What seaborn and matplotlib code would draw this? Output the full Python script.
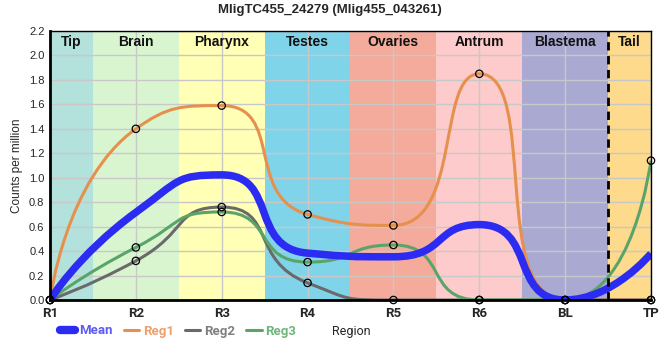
import matplotlib
matplotlib.use("Agg")
import matplotlib.pyplot as plt
import seaborn as sns
import numpy as np
import pandas as pd
from matplotlib.path import Path
from matplotlib.patches import PathPatch
from matplotlib.lines import Line2D

# data
regions = ["R1", "R2", "R3", "R4", "R5", "R6", "BL", "TP"]
reg1 = [0.0, 1.40, 1.59, 0.70, 0.61, 1.85, 0.0, 0.0]
reg2 = [0.0, 0.32, 0.76, 0.14, 0.0, 0.0, 0.0, 0.0]
reg3 = [0.0, 0.43, 0.72, 0.31, 0.45, 0.0, 0.0, 1.14]
mean = list(np.mean([reg1, reg2, reg3], axis=0))

band_names = ["Tip", "Brain", "Pharynx", "Testes", "Ovaries", "Antrum", "Blastema", "Tail"]
band_colors = ["#b3e2dd", "#d9f5d0", "#ffffb5", "#7fd4e9", "#f4ab9c", "#fdcbcb", "#a9a9d1", "#fdda8c"]

colors = {"Mean": "#2b2bf2", "Reg1": "#e6904d", "Reg2": "#6a6a6a", "Reg3": "#5aa469"}
text_colors = {"Mean": "#5b5bf5", "Reg1": "#eba070", "Reg2": "#808080", "Reg3": "#6fb67c"}


def smooth_path(ax, xs, ys, smooth=0.6):
    # bezier through the points in pixel space, control points kept
    # between neighbours so the curve never overshoots
    pts = ax.transData.transform(np.column_stack([xs, ys]))
    n = len(pts)
    verts = [tuple(pts[0])]
    codes = [Path.MOVETO]
    cp0 = tuple(pts[0])
    for i in range(1, n):
        x, y = pts[i]
        px, py = pts[i - 1]
        nxt = None
        if i == n - 1:
            cp1 = (x, y)
        else:
            nx, ny = pts[i + 1]
            vx, vy = nx - px, ny - py
            d0 = np.hypot(x - px, y - py)
            d1 = np.hypot(nx - x, ny - y)
            r = d1 / (d0 + d1)
            ncx = x + vx * smooth * r
            ncy = y + vy * smooth * r
            ncx = max(min(ncx, max(nx, x)), min(nx, x))
            ncy = max(min(ncy, max(ny, y)), min(ny, y))
            vx, vy = ncx - x, ncy - y
            c1x = x - vx * d0 / d1
            c1y = y - vy * d0 / d1
            c1x = max(min(c1x, max(px, x)), min(px, x))
            c1y = max(min(c1y, max(py, y)), min(py, y))
            vx, vy = x - c1x, y - c1y
            nxt = (x + vx * d1 / d0, y + vy * d1 / d0)
            cp1 = (c1x, c1y)
        verts += [cp0, cp1, (x, y)]
        codes += [Path.CURVE4] * 3
        cp0 = nxt
    data_verts = ax.transData.inverted().transform(np.array(verts))
    return Path(data_verts, codes)


sns.set_style("white")
plt.rcParams["font.family"] = ["Liberation Sans", "DejaVu Sans"]

fig = plt.figure(figsize=(6.6, 3.6), dpi=100)
ax = fig.add_axes([50 / 660, 60 / 360, 601 / 660, 269 / 360])

x = np.arange(len(regions))

ax.set_xlim(0, len(regions) - 1)
ax.set_ylim(0, 2.2)

# background bands
edges = np.concatenate([[0], x[:-1] + 0.5, [x[-1]]])
for i, (name, c) in enumerate(zip(band_names, band_colors)):
    ax.axvspan(edges[i], edges[i + 1], color=c, lw=0, zorder=0)
    ax.text((edges[i] + edges[i + 1]) / 2, 2.165, name, ha="center", va="top",
            fontsize=10, fontweight="bold", color="#111111", zorder=6)

ax.set_xticks(x)
ax.set_xticklabels(regions, family=["Roboto", "DejaVu Sans"])
ax.set_yticks(np.arange(0, 2.21, 0.2))
ax.set_yticklabels([f"{v:.1f}" for v in np.arange(0, 2.21, 0.2)])
ax.grid(True, color="#c8c8c8", lw=1, zorder=1)
for gl in ax.get_xgridlines() + ax.get_ygridlines():
    gl.set_zorder(1)

ax.axvline(6.5, color="black", lw=2, ls=(0, (3, 2)), zorder=5)

# series lines
series = {"Reg1": reg1, "Reg2": reg2, "Reg3": reg3, "Mean": mean}
for name, vals in series.items():
    lw = 5.4 if name == "Mean" else 2.2
    patch = PathPatch(smooth_path(ax, x, vals), fill=False, edgecolor=colors[name],
                      lw=lw, zorder=4 if name == "Mean" else 3, capstyle="butt",
                      joinstyle="round")
    ax.add_patch(patch)

# markers on the regional series
df = pd.DataFrame({"region": np.tile(x, 3),
                   "value": reg1 + reg2 + reg3,
                   "series": ["Reg1"] * 8 + ["Reg2"] * 8 + ["Reg3"] * 8})
sns.scatterplot(data=df, x="region", y="value", ax=ax, s=28, facecolor="none",
                edgecolor="black", linewidth=0.9, legend=False, zorder=7, clip_on=False)
ax.set_xlabel("")
ax.set_ylabel("Counts per million", fontsize=8.5)
ax.yaxis.set_label_coords(-0.045, 0.5)

for side in ["left", "bottom"]:
    ax.spines[side].set_linewidth(2)
for side in ["top", "right"]:
    ax.spines[side].set_linewidth(1)
for sp in ax.spines.values():
    sp.set_color("black")
    sp.set_zorder(8)

ax.tick_params(axis="x", direction="inout", length=6, width=1, labelsize=9.5, pad=2)
ax.tick_params(axis="y", direction="out", length=3, width=1, labelsize=8, pad=1)
for lab in ax.get_xticklabels():
    lab.set_fontweight("bold")

fig.suptitle("MligTC455_24279 (Mlig455_043261)", x=0.5, y=0.99, fontsize=9.5,
             fontweight="bold")

keys = ["Mean", "Reg1", "Reg2", "Reg3"]
handles = [Line2D([], [], color=colors[k], lw=6 if k == "Mean" else 2.2) for k in keys]
leg = fig.legend(handles, keys, loc="center left",
                 bbox_to_anchor=(48 / 660, 1 - 331 / 360), ncol=4, frameon=False,
                 handlelength=1.15, handletextpad=0.3, columnspacing=0.85,
                 prop={"size": 9.5, "weight": "bold", "family": ["Roboto", "DejaVu Sans"]})
for txt, k in zip(leg.get_texts(), keys):
    txt.set_color(text_colors[k])

fig.text(332 / 660, 1 - 331 / 360, "Region", ha="left", va="center", fontsize=9,
         family=["Roboto", "DejaVu Sans"])

fig.savefig("out.png", dpi=100)
